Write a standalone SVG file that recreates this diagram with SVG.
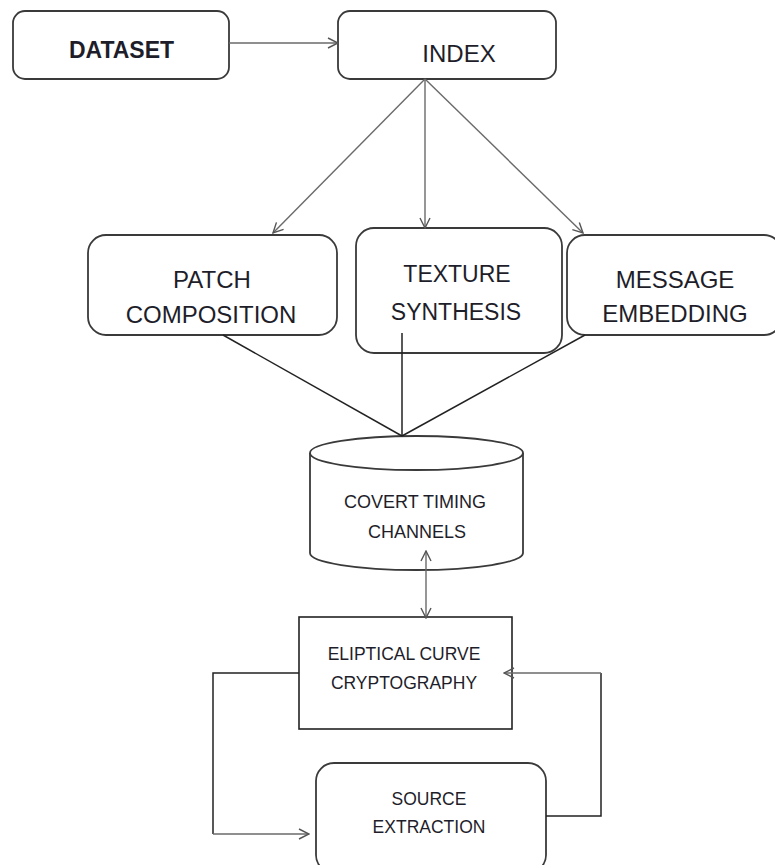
<svg xmlns="http://www.w3.org/2000/svg" width="775" height="865" viewBox="0 0 775 865">
<defs>
<style>
.box{fill:#fff;stroke:#3a3a3a;stroke-width:1.8}
.t{font-family:"Liberation Sans",Arial,sans-serif;fill:#1e1e2a;text-anchor:middle}
.g{fill:none;stroke:#6a6a6a;stroke-width:1.4}
.k{fill:none;stroke:#222;stroke-width:1.5}
</style>
<marker id="ah" viewBox="0 0 12 12" refX="11" refY="6" markerWidth="12" markerHeight="12" markerUnits="userSpaceOnUse" orient="auto-start-reverse">
<path d="M1,1 L11,6 L1,11" fill="none" stroke="#555" stroke-width="1.4"/>
</marker>
</defs>
<rect width="775" height="865" fill="#fff"/>
<g id="dataset">
<rect class="box" x="13" y="11" width="216" height="68" rx="12"/>
<text class="t" x="121.5" y="58" font-size="23" font-weight="bold">DATASET</text>
</g>
<g id="index">
<rect class="box" x="338" y="11" width="218" height="68" rx="12"/>
<text class="t" x="459" y="62" font-size="24">INDEX</text>
</g>
<g id="patch">
<rect class="box" x="88" y="235" width="249" height="100" rx="18"/>
<text class="t" x="212" y="288" font-size="24">PATCH</text>
<text class="t" x="211" y="323" font-size="24">COMPOSITION</text>
</g>
<g id="texture">
<rect class="box" x="356" y="228" width="206" height="125" rx="18"/>
<text class="t" x="457" y="282" font-size="23">TEXTURE</text>
<text class="t" x="456" y="320" font-size="23">SYNTHESIS</text>
</g>
<g id="message">
<rect class="box" x="567" y="235" width="215" height="100" rx="18"/>
<text class="t" x="675" y="288" font-size="24">MESSAGE</text>
<text class="t" x="675" y="322" font-size="24">EMBEDDING</text>
</g>
<g id="covert">
<path class="box" d="M310,453 L310,553 A106.5,17 0 0 0 523,553 L523,453"/>
<ellipse class="box" cx="416.5" cy="453" rx="106.5" ry="17"/>
<text class="t" x="415" y="508" font-size="18">COVERT TIMING</text>
<text class="t" x="417" y="538" font-size="18">CHANNELS</text>
</g>
<g id="ecc">
<rect x="299" y="617" width="213" height="112" fill="#fff" stroke="#222" stroke-width="1.6"/>
<text class="t" x="404" y="660" font-size="17.5">ELIPTICAL CURVE</text>
<text class="t" x="404" y="689" font-size="17.5">CRYPTOGRAPHY</text>
</g>
<g id="source">
<rect class="box" x="316" y="763" width="230" height="110" rx="18"/>
<text class="t" x="429" y="805" font-size="17.5">SOURCE</text>
<text class="t" x="429" y="833" font-size="17.5">EXTRACTION</text>
</g>
<g id="connectors">
<line class="g" x1="229" y1="43" x2="338" y2="43" marker-end="url(#ah)"/>
<line class="g" x1="425" y1="79" x2="273" y2="233" marker-end="url(#ah)"/>
<line class="g" x1="425" y1="79" x2="425" y2="228" marker-end="url(#ah)"/>
<line class="g" x1="425" y1="79" x2="583" y2="233" marker-end="url(#ah)"/>
<line class="k" x1="223" y1="335" x2="402" y2="436"/>
<line class="k" x1="402" y1="333" x2="402" y2="436"/>
<line class="k" x1="585" y1="335" x2="402" y2="436"/>
<line class="g" x1="426" y1="551" x2="426" y2="618" marker-start="url(#ah)" marker-end="url(#ah)"/>
<polyline class="k" points="299,673 213,673 213,834"/>
<line class="g" x1="213" y1="834" x2="309" y2="834" marker-end="url(#ah)"/>
<polyline class="k" points="546,816 601,816 601,673"/>
<line class="g" x1="601" y1="673" x2="504" y2="673" marker-end="url(#ah)"/>
</g>
</svg>
